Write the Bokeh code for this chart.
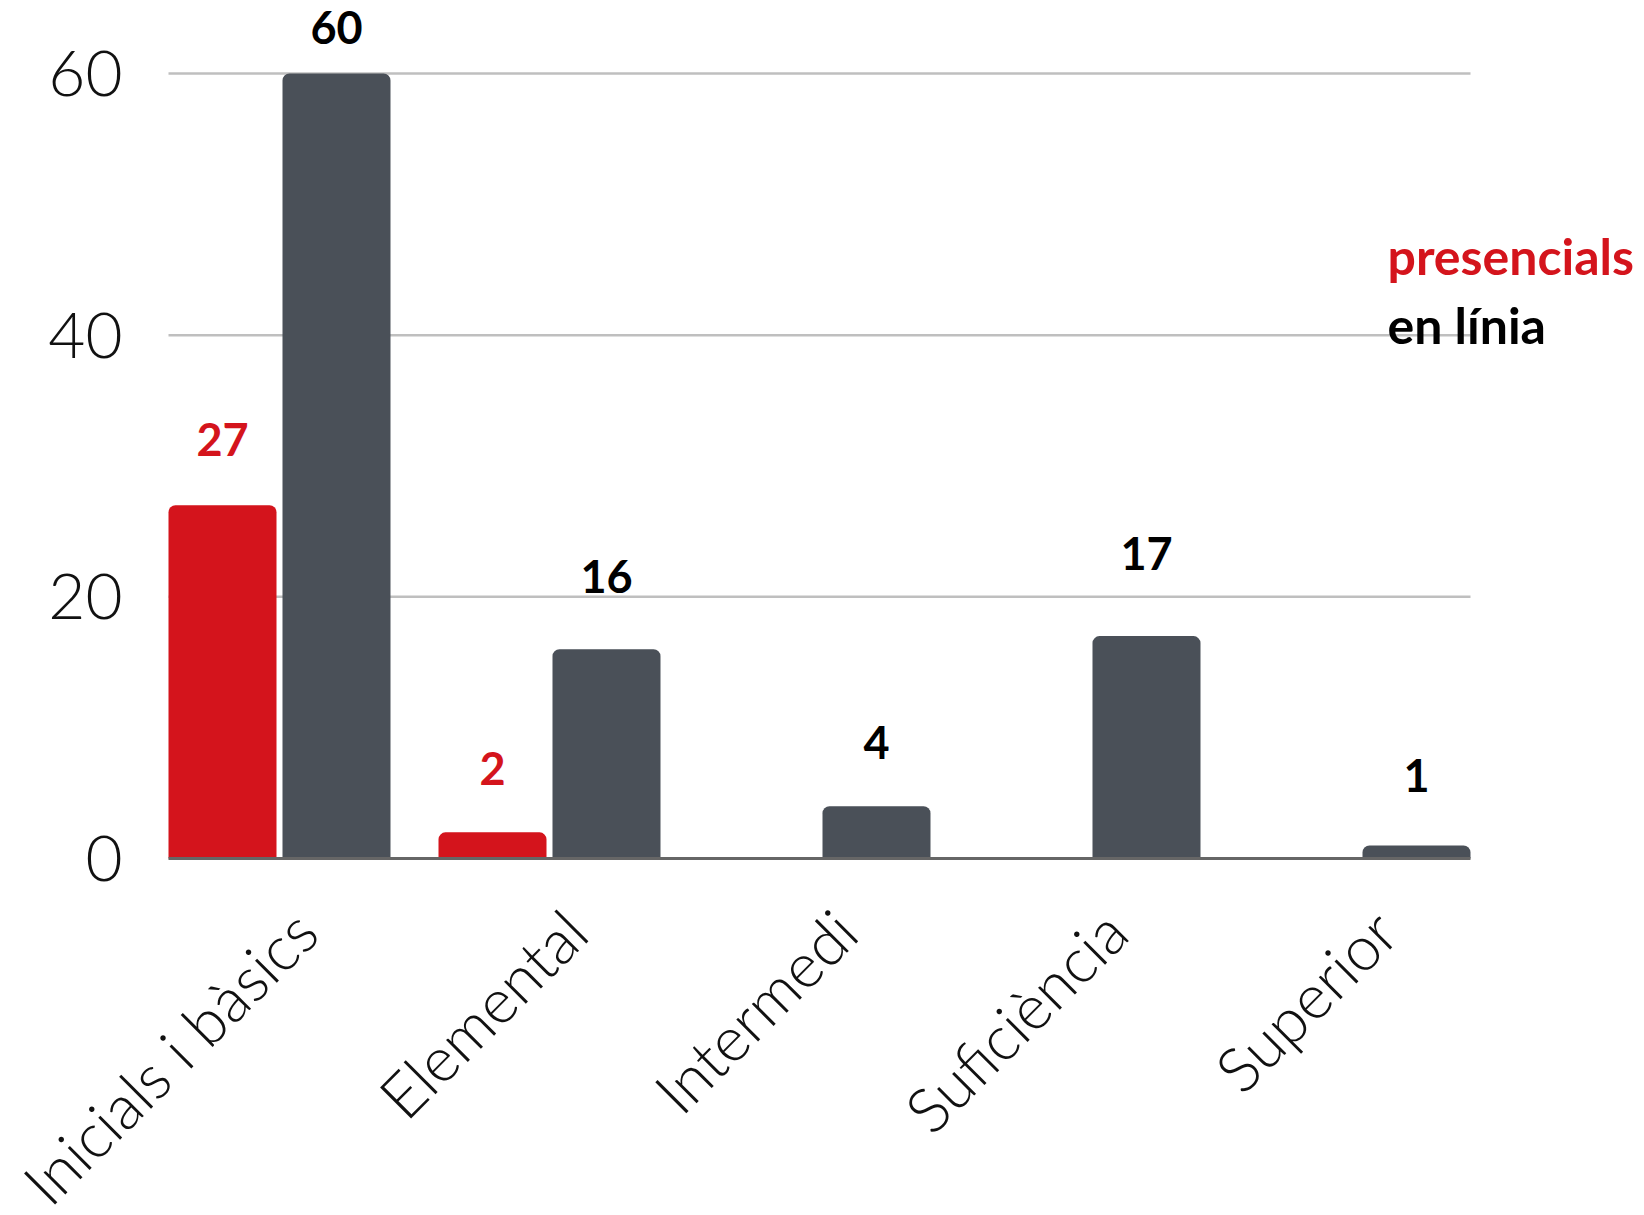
import math
from bokeh.plotting import figure
from bokeh.models import Range1d, ColumnDataSource, Label
from bokeh.core.properties import value
from bokeh.embed import file_html
from bokeh.resources import INLINE

categories = ["Inicials i bàsics", "Elemental", "Intermedi", "Suficiència", "Superior"]
presencials = [27, 2, 0, 0, 0]
en_linia = [60, 16, 4, 17, 1]
y_ticks = [0, 20, 40, 60]

RED = "#D4141C"
GRAY = "#4A5058"
BLACK = "#000000"

W, H = 1644, 1215
PL = 168                   # pixel column of the plot's left edge
BASE = 858                 # pixel row of y = 0
UNIT = 270.0               # px per category
C0 = 279                   # pixel column of first group centre
PPU = 785.0 / 60           # px per y unit
x_start = -C0 / UNIT
x_end = x_start + W / UNIT
y_end = BASE / PPU
y_start = -(H - BASE) / PPU
left_x = (PL - C0) / UNIT

p = figure(width=W, height=H, output_backend="svg", toolbar_location=None,
           x_range=Range1d(x_start, x_end), y_range=Range1d(y_start, y_end),
           min_border_left=0, min_border_right=0, min_border_top=0, min_border_bottom=0)
p.outline_line_color = None
p.background_fill_color = "white"
p.border_fill_color = "white"
p.xgrid.visible = False
p.ygrid.visible = False
p.xaxis.visible = False
p.yaxis.visible = False

n = len(categories)
last_x = (n - 1) + 0.4111
# gridlines
gl = [t for t in y_ticks if t > 0]
p.segment(x0=[left_x] * len(gl), x1=[last_x] * len(gl), y0=gl, y1=gl,
          line_color="#BFBFBF", line_width=2.5)

off = 0.2111
bw = 0.4
red_x = [i - off for i, v in enumerate(presencials) if v]
red_v = [v for v in presencials if v]
gray_x = [i + off for i in range(n)]

p.vbar(x=red_x, top=red_v, bottom=0, width=bw, fill_color=RED, line_color=None,
       border_radius=(7, 7, 0, 0))
p.vbar(x=gray_x, top=en_linia, bottom=0, width=bw, fill_color=GRAY, line_color=None,
       border_radius=(7, 7, 0, 0))

# baseline axis line
p.segment(x0=[left_x], x1=[last_x], y0=[0], y1=[0], line_color="#666666", line_width=3)

# y tick labels
ys = ColumnDataSource(dict(x=[left_x] * len(y_ticks), y=y_ticks, t=[str(t) for t in y_ticks]))
p.text(x="x", y="y", text="t", source=ys, x_offset=-46, text_color="#111111",
       text_font=value("Lato Light"), text_font_size="64px",
       text_align="right", text_baseline="middle")

# value labels
red_gap = [66, 64]
gray_gap = [46, 73, 64, 83, 70]
rs = ColumnDataSource(dict(x=red_x, y=red_v, t=[str(v) for v in red_v], o=[-g for g in red_gap]))
gs = ColumnDataSource(dict(x=gray_x, y=en_linia, t=[str(v) for v in en_linia], o=[-g for g in gray_gap]))
p.text(x="x", y="y", text="t", y_offset="o", source=rs, text_color=RED,
       text_font=value("Lato"), text_font_style="bold", text_font_size="45px",
       text_align="center", text_baseline="alphabetic")
p.text(x="x", y="y", text="t", y_offset="o", source=gs, text_color=BLACK,
       text_font=value("Lato"), text_font_style="bold", text_font_size="45px",
       text_align="center", text_baseline="alphabetic")

# category labels (rotated)
lab_off = 0.095
cs = ColumnDataSource(dict(x=[i + lab_off for i in range(n)], y=[0] * n, t=categories))
p.text(x="x", y="y", text="t", source=cs, angle=math.pi / 4, y_offset=62,
       text_color="#111111", text_font=value("Lato Light"), text_font_size="62px",
       text_align="right", text_baseline="middle")

# legend texts
def px_to_x(fx):
    return x_start + fx / UNIT
def px_to_y(fy):
    return (BASE - fy) / PPU

p.add_layout(Label(x=px_to_x(1387), y=px_to_y(255), text="presencials", text_color=RED,
                   text_font="Lato", text_font_style="bold", text_font_size="50px",
                   text_align="left", text_baseline="alphabetic"))
p.add_layout(Label(x=px_to_x(1387), y=px_to_y(324), text="en línia", text_color=BLACK,
                   text_font="Lato", text_font_style="bold", text_font_size="50px",
                   text_align="left", text_baseline="alphabetic"))

open("out.html", "w").write(file_html(p, INLINE))
